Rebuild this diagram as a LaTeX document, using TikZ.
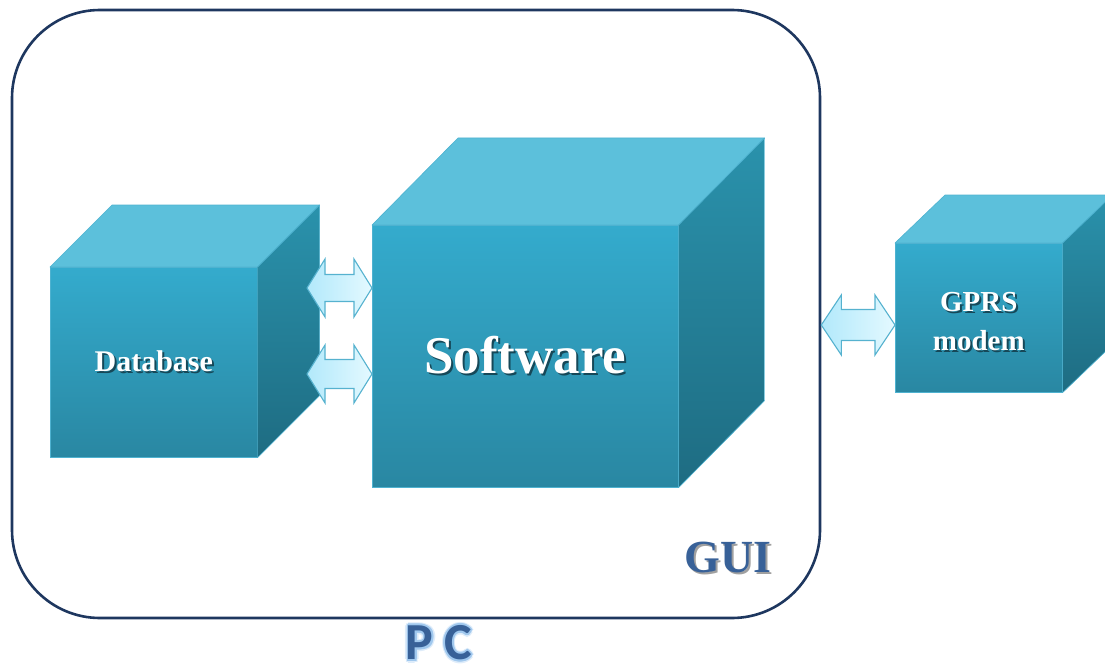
\documentclass[tikz,border=0pt]{standalone}
\usepackage{fontspec}
\setmainfont{Liberation Serif}
\newfontfamily\pcfont{Carlito}
\usetikzlibrary{calc}

\definecolor{frontT}{RGB}{52,171,205}
\definecolor{frontB}{RGB}{41,135,162}
\definecolor{topc}{RGB}{92,192,219}
\definecolor{sideT}{RGB}{42,146,172}
\definecolor{sideB}{RGB}{30,108,130}
\definecolor{edgec}{RGB}{78,178,208}
\definecolor{arrL}{RGB}{178,233,251}
\definecolor{arrR}{RGB}{228,249,255}
\definecolor{arrE}{RGB}{86,178,207}
\definecolor{framec}{RGB}{30,55,95}
\definecolor{labelc}{RGB}{56,97,152}
\definecolor{shadeW}{RGB}{22,72,88}
\definecolor{shadeG}{RGB}{160,160,160}
\definecolor{glowA}{RGB}{222,236,250}
\definecolor{glowB}{RGB}{160,200,238}

% text with a small drop shadow
\newcommand\shd[2]{\leavevmode\rlap{\kern2pt\raisebox{-2pt}{\textcolor{#1}{#2}}}#2}
% text with a soft halo, built from shifted copies behind it
\newdimen\gR
\newcommand\gcopy[4]{\rlap{\kern#1\raisebox{#2}{\textcolor{#3}{#4}}}}
\newcommand\gring[2]{%
  \gcopy{\gR}{0pt}{#1}{#2}\gcopy{-\gR}{0pt}{#1}{#2}%
  \gcopy{0pt}{\gR}{#1}{#2}\gcopy{0pt}{-\gR}{#1}{#2}%
  \gcopy{0.7\gR}{0.7\gR}{#1}{#2}\gcopy{-0.7\gR}{0.7\gR}{#1}{#2}%
  \gcopy{0.7\gR}{-0.7\gR}{#1}{#2}\gcopy{-0.7\gR}{-0.7\gR}{#1}{#2}}
\newcommand\glowtext[1]{\leavevmode\gR=3.4pt\gring{glowA}{#1}\gR=1.9pt\gring{glowB}{#1}#1}

\tikzset{
  front/.style={draw=edgec, line width=0.6pt, top color=frontT, bottom color=frontB,
                inner sep=0pt, text=white, anchor=north west},
  topface/.style={draw=edgec, line width=0.6pt, fill=topc, line join=round},
  sideface/.style={draw=edgec, line width=0.6pt, top color=sideT, bottom color=sideB, line join=round},
  fat/.style={draw=arrE, line width=1.1pt, left color=arrL, right color=arrR, line join=miter},
  pcframe/.style={draw=framec, line width=2.6pt, rounded corners=88pt, inner sep=0pt},
  lbl/.style={text=labelc, inner sep=0pt},
}

% top and side faces of a box whose front face is node #1, depth (#2 right, #3 up)
\newcommand\cubefaces[3]{%
  \draw[topface] (#1.north west) -- ++(#2,-#3) -- ($(#1.north east)+(#2,-#3)$)
     -- (#1.north east) -- cycle;
  \draw[sideface] (#1.north east) -- ($(#1.north east)+(#2,-#3)$)
     -- ($(#1.south east)+(#2,-#3)$) -- (#1.south east) -- cycle;}

% broad two-headed arrow between two points: head length, half head width, half shaft width
\newcommand\fatarrow[5]{%
  \draw[fat] let \p1=(#1), \p2=(#2) in
    (\x1,\y1) -- (\x1+#3,\y1+#4) -- (\x1+#3,\y1+#5) -- (\x2-#3,\y1+#5)
    -- (\x2-#3,\y1+#4) -- (\x2,\y1) -- (\x2-#3,\y1-#4) -- (\x2-#3,\y1-#5)
    -- (\x1+#3,\y1-#5) -- (\x1+#3,\y1-#4) -- cycle;}

\begin{document}
\begin{tikzpicture}[x=1pt,y=-1pt]
\clip (0,0) rectangle (1105,666);
\useasboundingbox (0,0) rectangle (1105,666);

% PC outline
\node[pcframe, minimum width=808pt, minimum height=608pt] (pc) at (416,314) {};

% Database box
\node[front, minimum width=207pt, minimum height=190pt,
      font=\fontsize{30}{34}\selectfont\bfseries] (db) at (50,267) {\shd{shadeW}{Database}};
\cubefaces{db}{62}{62}

% Software box
\node[front, minimum width=306pt, minimum height=262pt,
      font=\fontsize{53}{60}\selectfont\bfseries] (sw) at (372,225) {\shd{shadeW}{Software}};
\cubefaces{sw}{86}{87}

% GPRS modem box
\node[front, minimum width=167pt, minimum height=149pt, align=center,
      font=\fontsize{29}{39}\selectfont\bfseries] (gp) at (895,243)
      {\rule{0pt}{29pt}\shd{shadeW}{GPRS}\\\shd{shadeW}{modem}};
\cubefaces{gp}{50}{48}

% links
\coordinate (l1) at (307,288);
\coordinate (l2) at (307,374);
\coordinate (l3) at (pc.east |- 0,325);
\fatarrow{l1}{sw.west |- l1}{18pt}{29pt}{13.5pt}
\fatarrow{l2}{sw.west |- l2}{18pt}{29pt}{14.5pt}
\fatarrow{l3}{gp.west |- l3}{20pt}{30pt}{15.5pt}

% labels
\node[lbl, font=\fontsize{46}{50}\selectfont\bfseries] (gui) at (728,558)
      {\shd{shadeG}{GUI}};
\node[lbl, font=\fontsize{52}{56}\selectfont\pcfont\bfseries] (pclabel) at (439,643)
      {\glowtext{P\kern11pt C}};
\end{tikzpicture}
\end{document}
